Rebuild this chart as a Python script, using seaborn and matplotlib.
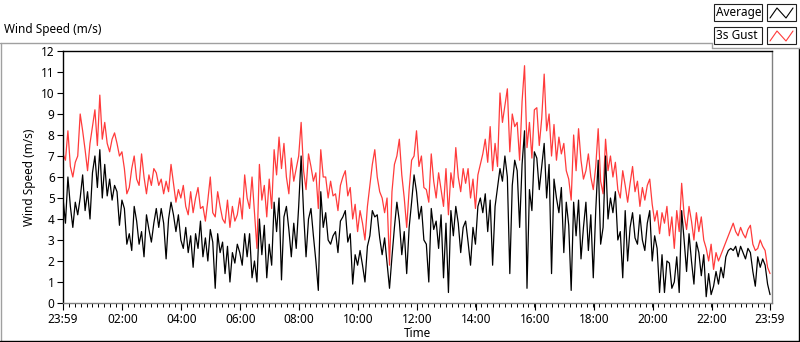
import numpy as np
import pandas as pd
import matplotlib
matplotlib.use("Agg")
import matplotlib.pyplot as plt
from matplotlib.lines import Line2D
from matplotlib.patches import Rectangle
from matplotlib.ticker import FixedLocator, FixedFormatter, MultipleLocator
import seaborn as sns

# ---- data (5-minute samples from 23:59 to 23:59, m/s) ----
gust = [
    7.1, 6.8, 8.2, 6.5, 6.0, 6.7, 7.0, 9.0, 8.2, 7.3, 6.3, 7.6, 8.4, 9.2, 7.5, 9.9, 7.8, 8.6, 7.6, 7.2,
    7.8, 8.1, 7.6, 7.0, 7.2, 6.4, 5.2, 5.5, 6.4, 7.0, 5.9, 5.6, 7.1, 6.0, 5.2, 6.1, 5.6, 6.4,
    6.2, 5.6, 5.9, 5.2, 5.8, 5.3, 6.6, 5.7, 4.8, 5.4, 5.0, 5.6, 4.6, 4.2, 5.3, 4.3, 5.0, 5.5, 4.5, 4.6,
    3.9, 4.9, 6.0, 4.3, 4.1, 5.3, 4.6, 4.0, 3.8, 4.9, 3.6, 4.6, 3.9, 4.2, 5.0, 4.0, 6.1,
    5.0, 4.5, 6.0, 4.3, 2.6, 6.6, 4.9, 5.6, 4.1, 5.9, 4.5, 7.3, 6.1, 7.9, 6.4, 7.6, 6.0, 5.2, 6.9, 5.8,
    6.4, 7.0, 8.6, 6.3, 5.4, 7.1, 6.5, 5.8, 6.2, 4.5, 7.3, 6.0, 6.0, 5.0, 5.8, 5.1,
    5.2, 4.4, 5.6, 6.0, 6.3, 5.1, 5.5, 4.0, 4.7, 3.4, 4.4, 3.8, 3.0, 4.6, 5.6, 6.6, 7.3, 6.0, 5.3, 5.0,
    4.3, 5.0, 1.8, 5.3, 6.6, 7.0, 7.8, 6.1, 5.0, 3.6, 5.4, 6.8, 7.0, 8.2, 6.5, 7.0, 5.5,
    5.4, 4.8, 7.1, 5.8, 5.0, 6.2, 5.4, 4.6, 6.4, 4.2, 6.2, 5.5, 7.4, 6.0, 5.3, 6.4, 5.7, 6.4, 5.0, 5.9,
    4.5, 6.1, 6.6, 7.1, 7.8, 6.7, 8.4, 6.3, 7.6, 6.5, 10.0, 8.6, 9.4, 10.2, 7.2, 9.0, 8.4,
    8.6, 6.8, 9.6, 11.3, 7.4, 8.6, 6.9, 9.2, 9.3, 7.5, 8.8, 10.9, 8.2, 9.0, 7.0, 8.5, 6.8, 7.9, 7.1, 7.6,
    6.3, 5.9, 4.9, 8.0, 6.3, 8.3, 6.8, 5.9, 6.3, 7.1, 6.0, 5.4, 6.5, 8.3, 5.8, 5.2,
    7.8, 6.3, 7.0, 6.0, 6.7, 5.4, 5.0, 6.3, 5.6, 4.8, 5.7, 6.5, 5.3, 5.8, 4.6, 5.5, 4.9, 5.6, 5.9, 4.7,
    3.9, 4.4, 3.3, 4.3, 3.8, 4.6, 3.2, 4.1, 2.6, 4.4, 3.4, 5.7, 4.2, 3.5, 4.6, 3.9, 3.0,
    4.3, 3.4, 4.1, 3.0, 2.6, 2.0, 2.8, 1.6, 2.4, 2.0, 2.3, 2.6, 2.9, 3.2, 3.5, 3.8, 3.4, 3.2, 3.6, 3.3,
    3.1, 3.5, 3.7, 2.8, 2.5, 2.6, 3.0, 2.7, 2.5, 1.7, 1.4,
]
average = [
    5.0, 3.8, 6.0, 4.6, 3.6, 4.8, 4.2, 5.0, 6.1, 4.4, 5.3, 4.0, 6.2, 7.0, 5.5, 7.3, 5.0, 6.6, 5.1, 5.9,
    4.9, 5.6, 5.3, 3.7, 4.9, 4.5, 2.8, 3.3, 2.5, 4.6, 3.9, 2.8, 3.4, 2.2, 4.2, 3.5, 2.9, 3.8,
    4.5, 3.6, 4.5, 3.8, 2.1, 4.0, 4.8, 4.2, 3.4, 4.2, 3.0, 2.6, 3.6, 2.4, 3.2, 1.7, 3.3, 2.6, 3.9, 2.2,
    3.1, 2.0, 3.5, 2.9, 0.7, 3.3, 2.4, 2.9, 1.4, 2.7, 1.0, 2.4, 1.9, 2.8, 2.4, 1.8, 3.3,
    2.2, 3.3, 1.2, 2.0, 1.0, 4.0, 2.3, 3.7, 1.2, 2.8, 1.8, 4.8, 3.4, 5.0, 1.1, 4.1, 4.6, 3.5, 2.2, 3.8,
    2.6, 4.6, 7.0, 4.3, 2.2, 4.0, 4.5, 3.2, 2.0, 0.6, 5.3, 3.6, 4.3, 3.0, 2.8, 3.2,
    3.4, 2.4, 3.9, 4.1, 4.4, 2.9, 3.3, 0.9, 2.3, 1.8, 2.5, 1.8, 1.0, 2.7, 3.2, 4.4, 4.1, 4.2, 3.1, 2.3,
    3.1, 1.9, 0.7, 2.2, 3.6, 4.8, 3.9, 2.3, 3.4, 1.4, 3.6, 4.8, 6.1, 5.3, 4.0, 4.6, 3.0,
    2.8, 1.0, 4.5, 3.5, 3.9, 2.6, 4.2, 1.2, 3.8, 0.5, 4.4, 3.2, 4.6, 3.8, 2.4, 3.6, 3.9, 2.9, 1.8, 3.6,
    2.8, 4.6, 5.0, 4.3, 5.2, 3.4, 4.9, 1.8, 4.6, 5.5, 6.4, 5.8, 7.0, 6.0, 1.4, 5.6, 6.8,
    6.3, 3.6, 6.6, 8.2, 0.7, 5.4, 4.4, 7.2, 6.9, 5.4, 6.5, 7.6, 5.0, 6.6, 1.4, 5.9, 5.0, 4.3, 5.5, 2.4,
    4.8, 3.7, 0.6, 4.8, 3.2, 4.9, 2.1, 3.6, 4.8, 2.5, 4.2, 1.2, 4.4, 6.8, 2.8, 3.6,
    7.0, 4.0, 5.0, 4.3, 5.3, 3.0, 3.4, 1.2, 4.4, 2.0, 3.6, 4.3, 3.1, 2.8, 4.2, 3.0, 2.5, 3.8, 4.4, 2.0,
    3.2, 2.6, 0.5, 2.3, 0.5, 2.0, 1.9, 0.7, 1.0, 2.2, 0.5, 4.4, 3.0, 1.5, 3.3, 2.0, 0.9,
    2.9, 2.4, 1.3, 2.3, 0.3, 1.4, 0.4, 0.8, 1.5, 0.9, 1.7, 1.2, 2.2, 2.5, 2.6, 2.5, 2.7, 2.2, 2.7, 2.4,
    2.1, 2.6, 2.4, 1.5, 0.8, 2.2, 1.7, 2.1, 1.8, 0.9, 0.4,
]
step_min = 5
tick_labels = ["23:59", "02:00", "04:00", "06:00", "08:00", "10:00", "12:00",
               "14:00", "16:00", "18:00", "20:00", "22:00", "23:59"]
tick_minutes = [0, 121, 241, 361, 481, 601, 721, 841, 961, 1081, 1201, 1321, 1440]

assert len(gust) == len(average)
minutes = np.arange(len(gust)) * step_min
df = pd.DataFrame({"minute": minutes, "Average": average, "3s Gust": gust})

sns.set_style("white")
plt.rcParams["font.family"] = ["Noto Sans", "DejaVu Sans"]

W, H = 800, 342
fig = plt.figure(figsize=(W / 100, H / 100), dpi=100)
fig.patch.set_facecolor("white")


def fx(x):
    return x / W


def fy(y):
    return 1 - y / H


L, R, T, B = 63, 772, 51, 303
ax = fig.add_axes([fx(L), fy(B), (R - L) / W, (B - T) / H])

red = "#ff3b3b"
sns.lineplot(data=df, x="minute", y="3s Gust", color=red, lw=0.9, ax=ax, estimator=None)
sns.lineplot(data=df, x="minute", y="Average", color="black", lw=0.9, ax=ax, estimator=None)

ax.set_xlim(0, 1444)
ax.set_ylim(0, 12)
ax.yaxis.set_major_locator(MultipleLocator(1))
ax.xaxis.set_major_locator(FixedLocator(tick_minutes))
ax.xaxis.set_major_formatter(FixedFormatter(tick_labels))
ax.xaxis.set_minor_locator(FixedLocator([m for m in range(0, 1441, 12)]))
ax.tick_params(axis="y", which="major", left=True, length=4, width=0.8, color="black",
               labelsize=8.5, pad=2, labelcolor="black")
ax.tick_params(axis="x", which="major", bottom=True, length=5, width=0.8, color="black",
               labelsize=8.5, pad=2, labelcolor="black")
ax.tick_params(axis="x", which="minor", bottom=True, length=3, width=0.7, color="black")
for s in ["left", "top"]:
    ax.spines[s].set_color("black")
    ax.spines[s].set_linewidth(1.0)
for s in ["right", "bottom"]:
    ax.spines[s].set_color("#808080")
    ax.spines[s].set_linewidth(1.0)
ax.set_xlabel("Time", fontsize=8.5, color="black")
ax.set_ylabel("Wind Speed (m/s)", fontsize=8.5, color="black")
ax.xaxis.set_label_coords((417 - L) / (R - L), -(327 - B) / (B - T))
ax.yaxis.set_label_coords(-(L - 36) / (R - L), 0.5)
ax.grid(False)

# title text top-left
fig.text(fx(4), fy(30), "Wind Speed (m/s)", fontsize=8.5, ha="left", va="center", color="black")

# outer frame
fig.add_artist(Line2D([fx(0), fx(712)], [fy(42.5), fy(42.5)], color="#a0a0a0", lw=1))
fig.add_artist(Line2D([fx(0.5), fx(0.5)], [fy(42.5), fy(341)], color="#a0a0a0", lw=1))
fig.add_artist(Line2D([fx(0), fx(799)], [fy(341), fy(341)], color="black", lw=1))
fig.add_artist(Line2D([fx(798.5), fx(798.5)], [fy(48), fy(341)], color="black", lw=1))
# legend panel shadow
fig.add_artist(Line2D([fx(712), fx(800)], [fy(48), fy(48)], color="#a0a0a0", lw=1))
fig.add_artist(Line2D([fx(712), fx(712)], [fy(42.5), fy(48)], color="#a0a0a0", lw=1))

# legend boxes
for (ytop, ybot, label, col) in [(4, 21, "Average", "black"), (27, 44, "3s Gust", red)]:
    fig.add_artist(Rectangle((fx(714), fy(ybot)), (762 - 714) / W, (ybot - ytop) / H,
                             fill=True, facecolor="white", edgecolor="#202020", lw=0.8))
    fig.text(fx(716), fy((ytop + ybot) / 2), label, fontsize=8.5, ha="left", va="center",
             color="black")
    fig.add_artist(Rectangle((fx(767), fy(ybot)), (796 - 767) / W, (ybot - ytop) / H,
                             fill=True, facecolor="white", edgecolor="#202020", lw=0.8))
    xs = [770, 777, 786, 793]
    ys = [ybot - 3, ytop + 4, ybot - 3, ytop + 4]
    fig.add_artist(Line2D([fx(v) for v in xs], [fy(v) for v in ys], color=col, lw=0.8))

fig.savefig("out.png", dpi=100, facecolor="white")
